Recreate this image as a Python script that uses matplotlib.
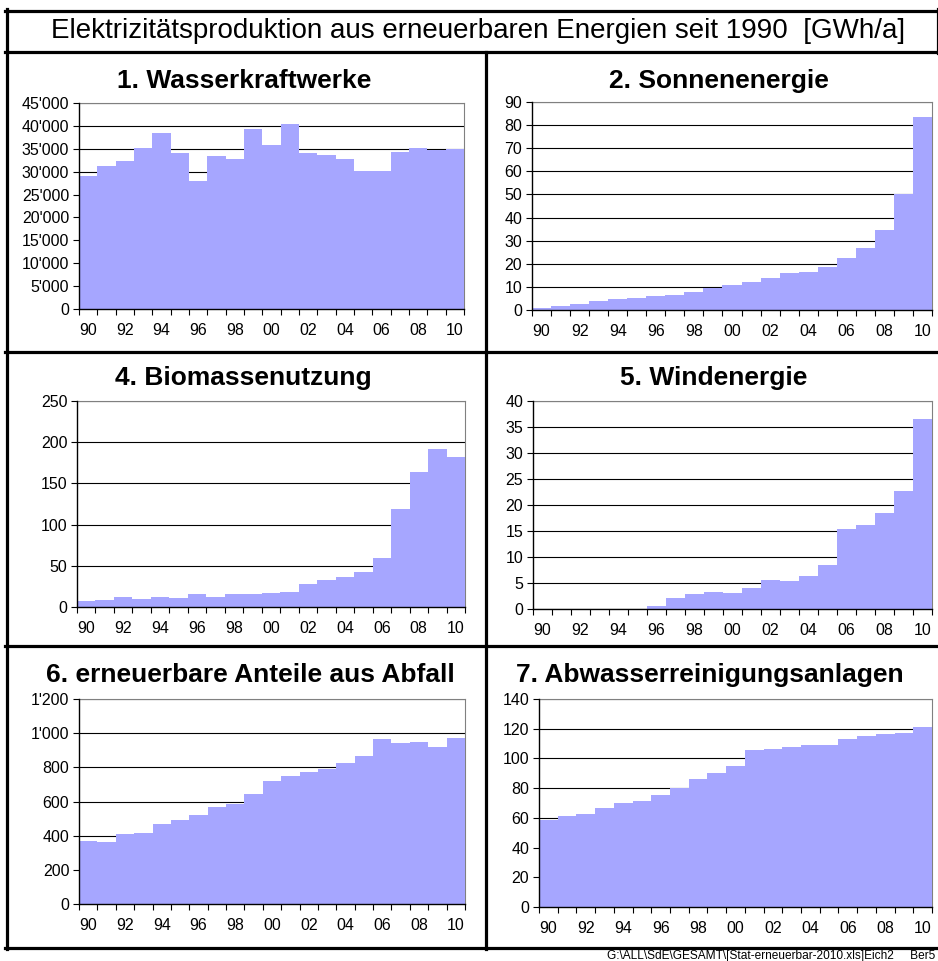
import matplotlib
matplotlib.use("Agg")
import matplotlib.pyplot as plt
from matplotlib.lines import Line2D
from matplotlib.ticker import FixedLocator, FuncFormatter

plt.rcParams["font.family"] = ["Liberation Sans", "DejaVu Sans"]

years = list(range(1990, 2011))
year_labels = [f"{y % 100:02d}" for y in years]

wasserkraft = [29100, 31300, 32400, 35200, 38500, 34100, 28000, 33500, 32800, 39400,
               35900, 40500, 34100, 33700, 32800, 30200, 30100, 34300, 35100, 34800, 35000]
sonne = [0.9, 1.7, 2.6, 3.9, 4.8, 5.2, 6.0, 6.5, 7.9, 9.6,
         10.9, 12.1, 13.8, 16.0, 16.4, 18.6, 22.5, 26.8, 34.6, 50.1, 83.4]
biomasse = [6.9, 8.1, 11.7, 9.3, 11.7, 10.5, 15.4, 11.7, 15.4, 15.4,
            16.6, 17.8, 27.5, 32.4, 36.0, 42.1, 59.1, 118.5, 163.4, 191.3, 181.6]
wind = [0, 0, 0, 0, 0, 0, 0.5, 2.05, 2.8, 3.2,
        3.0, 4.0, 5.5, 5.3, 6.3, 8.4, 15.3, 16.1, 18.4, 22.6, 36.5]
abfall = [369, 363, 410, 416, 469, 492, 522, 569, 586, 645,
          721, 750, 774, 792, 827, 868, 967, 944, 950, 920, 973]
abwasser = [58.4, 61.1, 62.5, 66.5, 69.9, 71.2, 75.3, 80.0, 86.1, 90.1,
            94.8, 105.6, 106.3, 107.6, 109.0, 109.0, 113.0, 115.1, 116.4, 117.1, 121.1]

W, H = 938, 961
fig = plt.figure(figsize=(W / 100, H / 100), dpi=100)

BAR = "#A6A6FF"


def apostrophe(v, pos):
    s = f"{int(round(v)):,}"
    return s.replace(",", "'")


def fx(px):
    return px / W


def fy(py):
    return 1 - py / H


# (title, data, ymax, ystep, axes box in px: x0, x1, ytop, ybottom, title centre x, title y)
panels = [
    ("1. Wasserkraftwerke", wasserkraft, 45000, 5000, (79, 464, 103, 309), (244, 81)),
    ("2. Sonnenenergie", sonne, 90, 10, (532, 932, 102, 310), (719, 81)),
    ("4. Biomassenutzung", biomasse, 250, 50, (77, 465, 401, 607), (243, 378)),
    ("5. Windenergie", wind, 40, 5, (533, 932, 401, 609), (714, 378)),
    ("6. erneuerbare Anteile aus Abfall", abfall, 1200, 200, (79, 465, 699, 904), (250, 675)),
    ("7. Abwasserreinigungsanlagen", abwasser, 140, 20, (539, 932, 699, 907), (710, 675)),
]

for title, data, ymax, ystep, (x0, x1, yt, yb), (tx, ty) in panels:
    ax = fig.add_axes([fx(x0), fy(yb), (x1 - x0) / W, (yb - yt) / H])
    idx = list(range(len(years)))
    ax.bar(idx, data, width=1.0, color=BAR, edgecolor="none", zorder=3)
    ax.set_xlim(-0.5, len(years) - 0.5)
    ax.set_ylim(0, ymax)
    yt_vals = [i * ystep for i in range(int(round(ymax / ystep)) + 1)]
    ax.yaxis.set_major_locator(FixedLocator(yt_vals))
    ax.yaxis.set_major_formatter(FuncFormatter(apostrophe))
    ax.grid(axis="y", color="black", linewidth=0.8, zorder=0)
    ax.set_axisbelow(True)
    # tick marks between categories, labels under every second year
    ax.xaxis.set_major_locator(FixedLocator([i - 0.5 for i in range(len(years) + 1)]))
    ax.xaxis.set_major_formatter(FuncFormatter(lambda v, p: ""))
    ax.xaxis.set_minor_locator(FixedLocator(idx[::2]))
    ax.set_xticklabels(year_labels[::2], minor=True)
    ax.tick_params(axis="x", which="major", direction="out", length=4, width=0.8, color="black")
    ax.tick_params(axis="x", which="minor", length=0, pad=10, labelsize=11.5)
    ax.tick_params(axis="y", direction="out", length=4, width=0.8, pad=3, labelsize=11.5)
    for side in ("left", "bottom"):
        ax.spines[side].set_color("black")
        ax.spines[side].set_linewidth(1.0)
        ax.spines[side].set_zorder(4)
    for side in ("top", "right"):
        ax.spines[side].set_color("#808080")
        ax.spines[side].set_linewidth(0.8)
    fig.text(fx(tx), fy(ty), title, ha="center", va="center",
             fontsize=19, fontweight="bold")

# main title
fig.text(fx(478), fy(31), "Elektrizitätsproduktion aus erneuerbaren Energien seit 1990  [GWh/a]",
         ha="center", va="center", fontsize=20,
         family=["Liberation Sans Narrow", "Liberation Sans", "DejaVu Sans"])

# frame lines
lw = 2.3


def hline(y, xa, xb):
    fig.add_artist(Line2D([fx(xa), fx(xb)], [fy(y), fy(y)], color="black", linewidth=lw))


def vline(x, ya, yb):
    fig.add_artist(Line2D([fx(x), fx(x)], [fy(ya), fy(yb)], color="black", linewidth=lw))


hline(10.5, 5.4, 950)
hline(52, 5.4, 950)
hline(351.5, 5.4, 950)
hline(646, 5.4, 950)
hline(947.5, 5.4, 950)
vline(6.5, 9.4, 948.6)
vline(485.5, 52, 948.6)
vline(938, 9.4, 53)

fig.text(fx(935), fy(955.5), r"G:\ALL\SdE\GESAMT\[Stat-erneuerbar-2010.xls]Eich2     Ber5",
         ha="right", va="center", fontsize=8.6)

fig.savefig("out.png", dpi=100)
